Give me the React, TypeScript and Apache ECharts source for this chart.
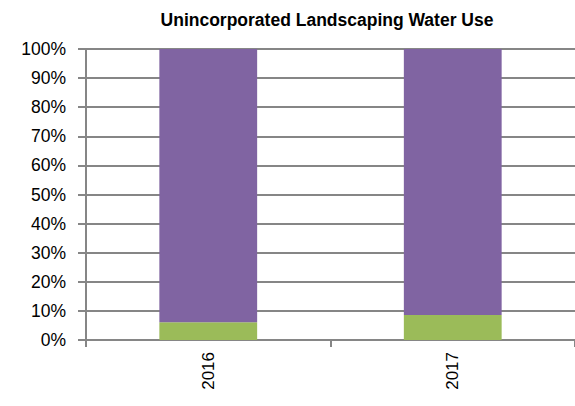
import React, { useEffect, useRef } from "react";
import * as echarts from "echarts";

const title = "Unincorporated Landscaping Water Use";
const categories = ["2016", "2017"];
const lowerShare = [6.1, 8.6];
const upperShare = [93.9, 91.4];
const yTicks = { min: 0, max: 100, interval: 10 };

export default function App() {
  const ref = useRef<HTMLDivElement>(null);
  useEffect(() => {
    if (!ref.current) return;
    const chart = echarts.init(ref.current, null, { renderer: "svg" });
    const font = "'Liberation Sans', Arial, sans-serif";
    chart.setOption({
      animation: false,
      title: {
        text: title,
        left: 322,
        top: 6,
        textAlign: "center",
        textStyle: { fontFamily: font, fontWeight: "bold", fontSize: 17.5, color: "#000" },
      },
      grid: { left: 86, right: 0, top: 49, bottom: 66, containLabel: false },
      xAxis: {
        type: "category",
        data: categories,
        axisLine: { lineStyle: { color: "#868686", width: 2 } },
        axisTick: { show: true, length: 7, alignWithLabel: false, lineStyle: { color: "#868686", width: 2 } },
        axisLabel: { rotate: 90, margin: 12, fontFamily: font, fontSize: 17, color: "#000" },
      },
      yAxis: {
        type: "value",
        min: yTicks.min,
        max: yTicks.max,
        interval: yTicks.interval,
        axisLine: { show: true, lineStyle: { color: "#868686", width: 2 } },
        axisTick: { show: true, length: 8, lineStyle: { color: "#868686", width: 2 } },
        splitLine: { show: true, lineStyle: { color: "#868686", width: 2 } },
        axisLabel: { formatter: "{value}%", margin: 20, fontFamily: font, fontSize: 17.5, color: "#000" },
      },
      series: [
        {
          type: "bar",
          stack: "total",
          data: lowerShare,
          barWidth: "40%",
          itemStyle: { color: "#9BBB59" },
        },
        {
          type: "bar",
          stack: "total",
          data: upperShare,
          barWidth: "40%",
          itemStyle: { color: "#8064A2" },
        },
      ],
    });
    return () => chart.dispose();
  }, []);
  return <div ref={ref} style={{ width: 575, height: 406, position: "absolute", left: 0, top: 0 }} />;
}
